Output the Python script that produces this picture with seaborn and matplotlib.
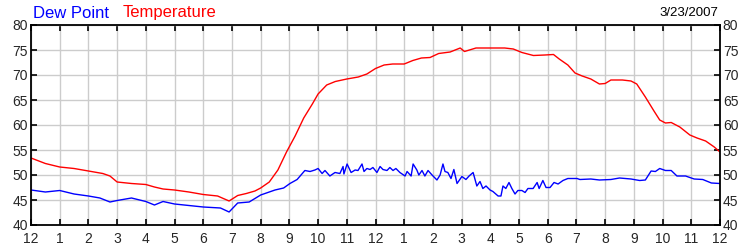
import matplotlib
matplotlib.use("Agg")
import matplotlib.pyplot as plt
import seaborn as sns
import pandas as pd

# Temperature (hours since midnight, deg F)
temp_hours = [0, 0.5, 1.0, 1.5, 2.0, 2.5, 2.75, 3.0, 3.5, 4.0, 4.3, 4.6, 5.0, 5.5, 6.0, 6.5, 6.9,
              7.2, 7.5, 7.8, 8.0, 8.3, 8.6, 8.9, 9.2, 9.5, 9.8, 10.0, 10.3, 10.6, 11.0, 11.4, 11.7,
              12.0, 12.3, 12.6, 13.0, 13.3, 13.6, 13.9, 14.2, 14.6, 14.95, 15.1, 15.5, 16.0,
              16.5, 16.8, 17.1, 17.5, 17.9,
              18.2, 18.4, 18.7, 18.95, 19.2, 19.5, 19.8, 20.0, 20.2, 20.6, 20.9, 21.1, 21.4,
              21.7, 21.9, 22.1, 22.3, 22.6, 22.95, 23.2, 23.5, 23.8, 24.0]
temp_vals = [53.4, 52.3, 51.6, 51.3, 50.8, 50.3, 49.8, 48.6, 48.3, 48.1, 47.6, 47.2, 47.0, 46.6,
             46.1, 45.8, 44.8,
             45.9, 46.3, 46.8, 47.4, 48.6, 51.0, 54.6, 57.8, 61.4, 64.2, 66.2, 68.0, 68.7,
             69.2, 69.6, 70.2,
             71.3, 72.0, 72.2, 72.2, 72.9, 73.4, 73.5, 74.3, 74.6, 75.4, 74.7, 75.4, 75.4,
             75.4, 75.2, 74.5, 73.9, 74.0,
             74.1, 73.2, 72.0, 70.4, 69.8, 69.2, 68.2, 68.3, 69.0, 69.0, 68.8, 68.2, 65.6,
             62.8, 61.0, 60.4, 60.5, 59.6, 58.0, 57.4, 56.8, 55.6, 54.6]

# Dew point (hours since midnight, deg F)
dew_hours = [0, 0.5, 1.0, 1.5, 2.0, 2.4, 2.75, 3.0, 3.5, 4.0, 4.3, 4.6, 5.0, 5.5, 6.0, 6.6, 6.9,
             7.2, 7.6, 8.0, 8.5, 8.8,
             9.02, 9.27, 9.54, 9.72, 9.89, 10.0, 10.14, 10.24, 10.41, 10.59, 10.76, 10.87,
             10.90, 11.01, 11.15, 11.29, 11.39, 11.53, 11.60, 11.70, 11.81, 11.91, 12.05,
             12.16, 12.26, 12.40, 12.50, 12.61, 12.71, 12.85, 13.03, 13.10, 13.24, 13.31,
             13.44, 13.51, 13.62, 13.72, 13.83, 13.97, 14.14, 14.25,
             14.35, 14.42, 14.52, 14.63, 14.73, 14.84, 15.01, 15.15, 15.26, 15.40, 15.53,
             15.64, 15.74, 15.85, 15.99, 16.09, 16.27, 16.37, 16.44, 16.54, 16.65, 16.75,
             16.86, 16.96, 17.10, 17.21, 17.31, 17.49, 17.63, 17.70, 17.83, 17.94, 18.08,
             18.22, 18.36, 18.53, 18.70, 19.02, 19.12,
             19.5, 19.8, 20.2, 20.5, 20.9, 21.2, 21.4, 21.6, 21.75, 21.9, 22.1, 22.3, 22.5,
             22.8, 23.1, 23.4, 23.7, 24.0]
dew_vals = [47.0, 46.6, 46.9, 46.2, 45.8, 45.4, 44.6, 44.9, 45.4, 44.7, 44.0, 44.7, 44.2, 43.9,
            43.6, 43.4, 42.6, 44.4, 44.6, 46.0, 47.0, 47.4,
            48.3, 49.1, 50.9, 50.7, 51.0, 51.3, 50.3, 50.9, 49.8, 50.5, 50.3, 51.7,
            50.2, 52.2, 50.5, 51.0, 50.9, 52.2, 50.7, 51.3, 51.1, 51.5, 50.5,
            51.7, 51.1, 50.9, 51.5, 50.9, 51.3, 50.5, 49.8, 50.7, 49.8, 52.2,
            51.0, 50.0, 50.9, 49.8, 50.9, 50.0, 49.0, 50.0,
            52.2, 50.7, 50.5, 49.3, 51.1, 48.3, 49.7, 49.1, 49.8, 50.5, 47.8,
            48.7, 47.3, 47.8, 47.0, 46.7, 45.8, 45.8, 47.8, 47.3, 48.5, 47.3,
            46.2, 46.9, 46.9, 46.5, 47.3, 47.3, 48.5, 47.3, 48.9, 47.5, 47.5,
            48.5, 48.2, 48.9, 49.3, 49.3, 49.1,
            49.2, 49.0, 49.1, 49.4, 49.2, 48.9, 49.0, 50.8, 50.7, 51.3, 50.9, 50.9, 49.8,
            49.8, 49.2, 49.1, 48.4, 48.3]

x_tick_labels = ["12", "1", "2", "3", "4", "5", "6", "7", "8", "9", "10", "11",
                 "12", "1", "2", "3", "4", "5", "6", "7", "8", "9", "10", "11", "12"]
y_ticks = [40, 45, 50, 55, 60, 65, 70, 75, 80]

sns.set_style("white")
plt.rcParams['font.family'] = ['Liberation Sans', 'DejaVu Sans']

fig = plt.figure(figsize=(7.5, 2.5), dpi=100)
ax = fig.add_axes([31/750, 25/250, 689/750, 200/250])

df_t = pd.DataFrame({"hour": temp_hours, "value": temp_vals})
df_d = pd.DataFrame({"hour": dew_hours, "value": dew_vals})
sns.lineplot(data=df_t, x="hour", y="value", ax=ax, color="#ff0000", linewidth=1.0)
sns.lineplot(data=df_d, x="hour", y="value", ax=ax, color="#0000ff", linewidth=1.0)

ax.set_xlim(0, 24)
ax.set_ylim(40, 80)
ax.set_xticks(range(25))
ax.set_xticklabels(x_tick_labels)
ax.set_yticks(y_ticks)
ax.set_xlabel("")
ax.set_ylabel("")
ax.grid(True, color="#cccccc", linewidth=1.0)
ax.set_axisbelow(True)
for s in ax.spines.values():
    s.set_color("black")
    s.set_linewidth(1.3)
ax.tick_params(axis="both", direction="in", length=4, width=1.2, color="black",
               labelsize=10, pad=2, top=True, right=True, left=True, bottom=True,
               labelright=True, labelleft=True)
ax.tick_params(axis="x", pad=5)

fig.text(33/750, 1 - 13/250, "Dew Point", color="#0000ff", fontsize=12, va="center", ha="left")
fig.text(123/750, 1 - 13/250, "Temperature", color="#ff0000", fontsize=12, va="center", ha="left")
fig.text(718/750, 1 - 13/250, "3/23/2007", color="black", fontsize=9.5, va="center", ha="right")

fig.savefig("out.png", dpi=100)
